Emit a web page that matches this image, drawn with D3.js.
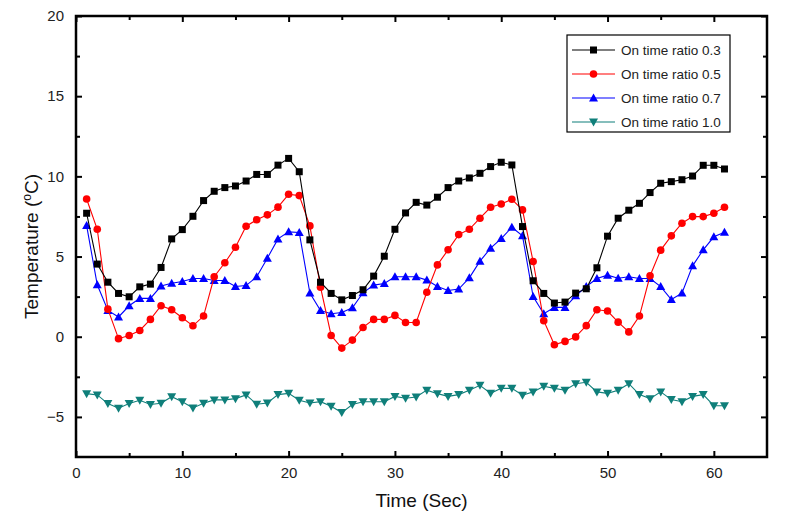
<!DOCTYPE html>
<html>
<head>
<meta charset="utf-8">
<script src="https://cdn.jsdelivr.net/npm/d3@7"></script>
<style>
  html, body { margin: 0; padding: 0; background: #fff; }
  svg { display: block; font-family: "Liberation Sans", Arial, sans-serif; }
</style>
</head>
<body>
<svg id="chart" width="799" height="525"></svg>
<script>
const time = d3.range(1, 62);
const ratio03 = [7.70,4.53,3.40,2.70,2.49,3.11,3.28,4.32,6.10,6.68,7.51,8.49,9.07,9.30,9.40,9.71,10.12,10.12,10.70,11.12,10.29,6.04,3.40,2.70,2.30,2.57,2.93,3.78,5.02,6.70,7.72,8.38,8.21,8.70,9.30,9.71,9.90,10.19,10.61,10.88,10.71,6.87,3.49,2.70,2.10,2.16,2.72,2.99,4.30,6.27,7.39,7.89,8.32,8.99,9.57,9.67,9.79,10.02,10.69,10.69,10.46];
const ratio05 = [8.59,6.70,1.72,-0.12,0.08,0.39,1.08,1.93,1.68,1.18,0.68,1.29,3.74,4.61,5.58,6.89,7.29,7.60,8.08,8.88,8.80,6.91,3.09,0.08,-0.71,-0.21,0.58,1.08,1.08,1.33,0.89,0.89,2.77,4.48,5.42,6.37,6.70,7.39,8.07,8.28,8.57,7.91,4.69,1.00,-0.50,-0.29,-0.01,0.69,1.68,1.60,0.91,0.30,1.29,3.80,5.40,6.29,7.08,7.49,7.49,7.70,8.07];
const ratio07 = [6.93,3.24,1.64,1.23,1.93,2.39,2.39,3.16,3.34,3.44,3.63,3.63,3.51,3.51,3.13,3.19,3.74,4.90,6.10,6.54,6.50,2.72,1.64,1.43,1.51,1.81,2.74,3.22,3.32,3.74,3.74,3.74,3.53,3.13,2.88,2.97,3.67,4.71,5.52,6.12,6.83,6.29,2.51,1.43,1.83,1.83,2.55,3.13,3.63,3.84,3.65,3.74,3.63,3.63,3.13,2.32,2.72,4.42,5.42,6.23,6.52];
const ratio10 = [-3.55,-3.63,-4.17,-4.46,-4.17,-3.96,-4.23,-4.15,-3.74,-4.05,-4.44,-4.15,-3.94,-3.94,-3.86,-3.63,-4.21,-4.13,-3.61,-3.53,-3.96,-4.13,-4.05,-4.34,-4.73,-4.23,-4.05,-4.05,-4.05,-3.72,-3.84,-3.76,-3.33,-3.55,-3.72,-3.61,-3.34,-3.03,-3.53,-3.22,-3.22,-3.65,-3.44,-3.09,-3.22,-3.34,-2.93,-2.84,-3.44,-3.53,-3.34,-2.93,-3.61,-3.86,-3.44,-3.92,-4.05,-3.72,-3.61,-4.30,-4.30];
const seriesNames = ["On time ratio 0.3","On time ratio 0.5","On time ratio 0.7","On time ratio 1.0"];
const seriesColors = ["#000000","#ff0000","#0000ff","#0f7f7a"];
const seriesShapes = ["square","circle","triangle","triangleDown"];
const xTicks = [0,10,20,30,40,50,60];
const yTicks = [-5,0,5,10,15,20];
const xTitle = "Time (Sec)";

const svg = d3.select("#chart");
const L = 76, R = 767, T = 16, B = 457;
const x = d3.scaleLinear().domain([0, 65]).range([L, R]);
const y = d3.scaleLinear().domain([-7.5, 20]).range([B, T]);

const all = [ratio03, ratio05, ratio07, ratio10];

const fontSize = 15;
function styleAxis(g) {
  g.select(".domain").remove();
  g.selectAll(".tick line").attr("stroke", "#000").attr("stroke-width", 2);
  g.selectAll(".tick text").attr("font-size", fontSize).attr("fill", "#222")
    .attr("font-family", "Liberation Sans, Arial, sans-serif");
}
const xMinor = d3.range(5, 65, 10);
const yMinor = d3.range(-2.5, 20, 5);

const gB = svg.append("g").attr("transform", `translate(0,${B})`)
  .call(d3.axisBottom(x).tickValues(xTicks).tickSize(-6).tickPadding(10).tickFormat(d3.format("d")));
styleAxis(gB);
const gBm = svg.append("g").attr("transform", `translate(0,${B})`)
  .call(d3.axisBottom(x).tickValues(xMinor).tickSize(-4).tickFormat(""));
styleAxis(gBm);
const gT = svg.append("g").attr("transform", `translate(0,${T})`)
  .call(d3.axisTop(x).tickValues(xTicks).tickSize(-6).tickFormat(""));
styleAxis(gT);
const gTm = svg.append("g").attr("transform", `translate(0,${T})`)
  .call(d3.axisTop(x).tickValues(xMinor).tickSize(-4).tickFormat(""));
styleAxis(gTm);
const gL = svg.append("g").attr("transform", `translate(${L},0)`)
  .call(d3.axisLeft(y).tickValues(yTicks).tickSize(-6).tickPadding(12).tickFormat(d3.format("d")));
styleAxis(gL);
const gLm = svg.append("g").attr("transform", `translate(${L},0)`)
  .call(d3.axisLeft(y).tickValues(yMinor).tickSize(-4).tickFormat(""));
styleAxis(gLm);
const gR = svg.append("g").attr("transform", `translate(${R},0)`)
  .call(d3.axisRight(y).tickValues(yTicks).tickSize(-6).tickFormat(""));
styleAxis(gR);
const gRm = svg.append("g").attr("transform", `translate(${R},0)`)
  .call(d3.axisRight(y).tickValues(yMinor).tickSize(-4).tickFormat(""));
styleAxis(gRm);

svg.append("rect").attr("x", L).attr("y", T).attr("width", R - L).attr("height", B - T)
  .attr("fill", "none").attr("stroke", "#000").attr("stroke-width", 2.5);

function drawMarker(g, shape, cx, cy, color) {
  if (shape === "square") {
    g.append("rect").attr("x", cx - 3.5).attr("y", cy - 3.5).attr("width", 7).attr("height", 7).attr("fill", color);
  } else if (shape === "circle") {
    g.append("circle").attr("cx", cx).attr("cy", cy).attr("r", 3.8).attr("fill", color);
  } else if (shape === "triangle") {
    g.append("path").attr("d", `M${cx},${cy-4.5}L${cx+4.5},${cy+3.5}L${cx-4.5},${cy+3.5}Z`).attr("fill", color);
  } else {
    g.append("path").attr("d", `M${cx},${cy+4.5}L${cx+4.5},${cy-3.5}L${cx-4.5},${cy-3.5}Z`).attr("fill", color);
  }
}

const line = d3.line().x((d, i) => x(time[i])).y(d => y(d));
[3, 2, 1, 0].forEach(k => {
  const g = svg.append("g");
  g.append("path").datum(all[k]).attr("d", line).attr("fill", "none")
    .attr("stroke", seriesColors[k]).attr("stroke-width", 1.1);
  all[k].forEach((v, i) => drawMarker(g, seriesShapes[k], x(time[i]), y(v), seriesColors[k]));
});

const lg = svg.append("g");
lg.append("rect").attr("x", 567).attr("y", 35).attr("width", 163).attr("height", 97)
  .attr("fill", "#fff").attr("stroke", "#000").attr("stroke-width", 1.2);
seriesNames.forEach((name, k) => {
  const yy = 50 + k * 24;
  lg.append("line").attr("x1", 572).attr("x2", 615).attr("y1", yy).attr("y2", yy)
    .attr("stroke", seriesColors[k]).attr("stroke-width", 1.1);
  drawMarker(lg, seriesShapes[k], 593.5, yy, seriesColors[k]);
  lg.append("text").attr("x", 621).attr("y", yy + 5).attr("font-size", 13.5).attr("fill", "#222").text(name);
});

svg.append("text").attr("x", (L + R) / 2).attr("y", 507).attr("text-anchor", "middle")
  .attr("font-size", 19).attr("fill", "#111").text(xTitle);
const yt = svg.append("text").attr("transform", `translate(38,${(T + B) / 2 + 10}) rotate(-90)`)
  .attr("text-anchor", "middle").attr("font-size", 19).attr("fill", "#111");
yt.append("tspan").text("Temperature (");
yt.append("tspan").attr("font-size", 12).attr("dy", -7).text("o");
yt.append("tspan").attr("dy", 7).text("C)");
</script>
</body>
</html>
